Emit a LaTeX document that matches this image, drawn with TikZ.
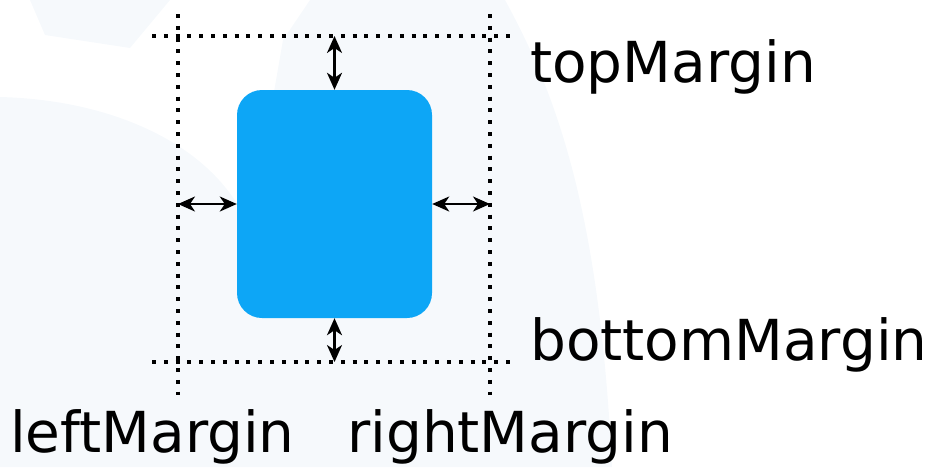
\documentclass[tikz,border=0pt]{standalone}
\usepackage{fontspec}
\setmainfont{DejaVu Sans}
\usetikzlibrary{arrows.meta}
\definecolor{boxblue}{RGB}{13,166,246}
\definecolor{wash}{RGB}{246,249,252}
\tikzset{
  guide/.style={line width=4pt, dash pattern=on 4pt off 7.8pt},
  gap/.style={line width=2.2pt, {Stealth[length=17pt,width=15pt,inset=5pt]}-{Stealth[length=17pt,width=15pt,inset=5pt]}},
  lbl/.style={anchor=base west, inner sep=0pt, font=\fontsize{56.5}{60}\selectfont}
}
\begin{document}
\begin{tikzpicture}[x=1pt,y=-1pt]
\useasboundingbox (0,0) rectangle (936,467);
% faint backdrop
\fill[wash] (310,0) -- (505,0) .. controls (560,100) and (600,220) .. (612,467)
  -- (0,467) -- (0,97) .. controls (120,100) and (220,150) .. (250,230)
  -- (283,40) -- cycle;
\fill[wash] (30,0) -- (170,0) -- (130,48) -- (45,35) -- cycle;
% the item
\node[fill=boxblue, rounded corners=25pt, minimum width=195pt, minimum height=228pt,
  inner sep=0pt] (body) at (334.5,204) {};
% margin guides
\coordinate (lt) at (178,14);  \coordinate (lb) at (178,395);
\coordinate (rt) at (490,14);  \coordinate (rb) at (490,395);
\coordinate (tl) at (152,36);  \coordinate (tr) at (510,36);
\coordinate (bl) at (152,362); \coordinate (br) at (510,362);
\draw[guide] (lt) -- (lb);
\draw[guide] (rt) -- (rb);
\draw[guide] (tl) -- (tr);
\draw[guide] (bl) -- (br);
% gaps
\coordinate (topgap) at (body.north |- tl);
\coordinate (botgap) at (body.south |- bl);
\coordinate (leftgap) at (lt |- body.west);
\coordinate (rightgap) at (rt |- body.east);
\draw[gap] (topgap) -- (body.north);
\draw[gap] (body.south) -- (botgap);
\draw[gap] (leftgap) -- (body.west);
\draw[gap] (body.east) -- (rightgap);
% labels
\node[lbl] (toplbl) at (530,82) {topMargin};
\node[lbl] (botlbl) at (530,360) {bottomMargin};
\node[lbl] (leftlbl) at (10,452) {leftMargin};
\node[lbl] (rightlbl) at (347,452) {rightMargin};
\end{tikzpicture}
\end{document}
